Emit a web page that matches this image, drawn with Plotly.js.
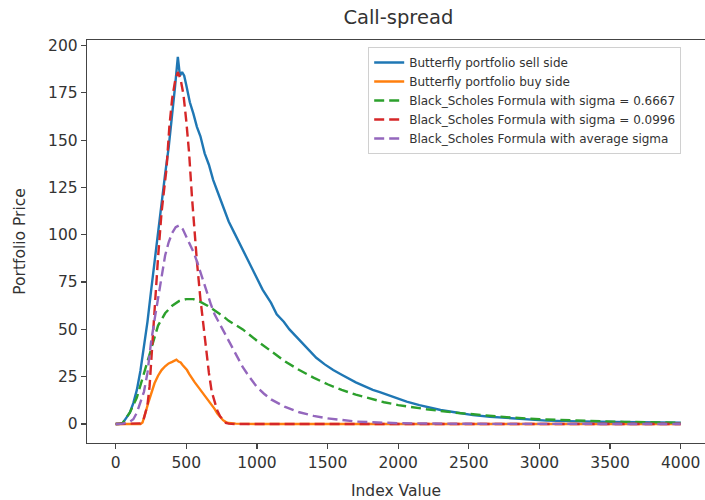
<!DOCTYPE html>
<html>
<head>
<meta charset="utf-8">
<script src="https://cdn.plot.ly/plotly-3.0.1.min.js"></script>
<style>
html,body{margin:0;padding:0;background:#fff;overflow:hidden;}
#chart{width:705px;height:500px;}
</style>
</head>
<body>
<div id="chart"></div>
<script>
// ---- Data ----
const titleText = "Call-spread";
const xLabel = "Index Value";
const yLabel = "Portfolio Price";
const seriesNames = [
  "Butterfly portfolio sell side",
  "Butterfly portfolio buy side",
  "Black_Scholes Formula with sigma = 0.6667",
  "Black_Scholes Formula with sigma = 0.0996",
  "Black_Scholes Formula with average sigma"
];
const xTicks = [0, 500, 1000, 1500, 2000, 2500, 3000, 3500, 4000];
const yTicks = [0, 25, 50, 75, 100, 125, 150, 175, 200];

const sellX = [0, 25, 50, 75, 100, 125, 150, 175, 200, 225, 250, 275, 300, 325, 350, 375, 400, 420, 440, 455, 470, 485, 500, 525, 550, 575, 600, 630, 660, 690, 720, 760, 800, 840, 880, 925, 975, 1040, 1100, 1140, 1190, 1230, 1280, 1330, 1380, 1420, 1480, 1540, 1600, 1660, 1700, 1760, 1820, 1870, 1940, 2000, 2060, 2150, 2300, 2400, 2530, 2650, 2810, 2950, 3050, 3200, 3350, 3520, 3700, 3850, 4000];
const sellY = [0, 0, 0.5, 3, 6, 11, 18, 28, 40, 54, 70, 86, 100, 117, 132, 146, 162, 178, 194, 184, 186, 184, 179, 170, 164, 157, 152, 143, 137, 129, 123, 115, 107, 101, 95, 88, 80, 71, 64, 58, 54, 50, 46, 42, 38, 35, 31.5, 28.5, 26, 23.5, 22, 20, 18, 16.8, 15, 13.7, 11.8, 10, 7.4, 6.2, 4.7, 3.8, 3, 2.4, 1.8, 1.5, 1.2, 1.05, 0.9, 0.8, 0.7];

const buyX = [0, 100, 175, 190, 200, 215, 230, 250, 275, 300, 325, 350, 375, 400, 415, 430, 445, 460, 475, 490, 505, 520, 540, 560, 580, 600, 620, 640, 660, 680, 700, 720, 740, 760, 780, 800, 850, 1000, 1500, 2000, 2500, 3000, 3500, 4000];
const buyY = [0, 0, 0, 0.8, 3, 7, 11, 16, 21.5, 25.5, 28.5, 30.5, 32, 32.8, 33.5, 34, 33, 32.5, 31, 30, 28.5, 26.5, 24, 22, 20, 18, 16, 14, 12.5, 10, 8, 5.5, 3.5, 2, 1, 0.5, 0.2, 0, 0, 0, 0, 0, 0, 0];

const bsHighX = [0, 25, 50, 75, 100, 150, 200, 250, 300, 350, 400, 450, 500, 550, 600, 650, 700, 760, 800, 900, 1000, 1100, 1200, 1300, 1400, 1500, 1600, 1700, 1800, 1900, 2000, 2200, 2400, 2600, 2800, 3000, 3300, 3600, 4000];
const bsHighY = [0, 0.1, 0.6, 3, 6, 14, 27, 40, 52, 58.5, 62.5, 65, 66, 66, 64.5, 62.5, 60, 57, 54.5, 50, 44, 38.5, 33, 28.5, 24.5, 21, 18, 15.5, 13.3, 11.5, 10, 7.8, 6, 4.6, 3.4, 2.5, 1.6, 1.1, 0.7];

const bsLowX = [0, 150, 175, 200, 225, 240, 250, 265, 275, 290, 300, 325, 350, 360, 380, 400, 420, 440, 460, 480, 500, 520, 540, 560, 575, 600, 620, 640, 660, 680, 700, 720, 740, 760, 780, 800, 850, 1000, 1500, 2000, 2500, 3000, 3500, 4000];
const bsLowY = [0, 0, 0.3, 3, 10, 20, 32, 47, 60, 77, 88, 112, 128, 135, 157, 172, 181, 186, 182, 174, 160, 143, 120, 100, 86, 66, 52, 38, 27, 17, 12, 7, 4, 2, 0.6, 0.2, 0, 0, 0, 0, 0, 0, 0, 0];

const bsAvgX = [0, 50, 100, 125, 150, 175, 200, 225, 250, 275, 300, 325, 350, 375, 400, 425, 450, 475, 500, 525, 550, 575, 600, 625, 650, 675, 700, 750, 800, 850, 900, 950, 1000, 1050, 1100, 1200, 1300, 1400, 1500, 1700, 2000, 2500, 3000, 3500, 4000];
const bsAvgY = [0, 0.2, 1.2, 2.5, 6, 11, 17, 27, 43, 55, 66, 79, 89, 96, 101, 104, 105, 103, 99, 95, 91, 86, 80, 74, 68, 63, 58, 51, 44, 37, 30, 24.5, 19.5, 16, 13, 9, 6.2, 4.3, 3, 1.3, 0.4, 0.1, 0, 0, 0];

// ---- Styling ----
const colors = ["#1f77b4", "#ff7f0e", "#2ca02c", "#d62728", "#9467bd"];
const dashPat = "10px,5px";
const lw = 2.4;

const xs = [sellX, buyX, bsHighX, bsLowX, bsAvgX];
const ys = [sellY, buyY, bsHighY, bsLowY, bsAvgY];
const traces = xs.map((x, i) => ({
  type: "scatter",
  mode: "lines",
  x: x,
  y: ys[i],
  name: seriesNames[i],
  line: {color: colors[i], width: lw, dash: i >= 2 ? dashPat : "solid"}
}));

const textColor = "#333";
const axisFont = {family: "DejaVu Sans", size: 15.5, color: textColor};

const layout = {
  width: 705,
  height: 500,
  margin: {l: 87, r: 0, t: 40, b: 57, pad: 0},
  paper_bgcolor: "#fff",
  plot_bgcolor: "#fff",
  font: {family: "DejaVu Sans", color: textColor},
  title: {
    text: titleText,
    font: {family: "DejaVu Sans", size: 19.5, color: textColor},
    x: 0.565, xref: "container", xanchor: "center",
    y: 0.966, yref: "container", yanchor: "middle"
  },
  xaxis: {
    range: [-203, 4172],
    tickvals: xTicks,
    ticktext: xTicks.map(String),
    ticks: "outside", ticklen: 5, tickwidth: 1.2, tickcolor: "#444",
    showline: true, linecolor: "#444", linewidth: 1.2, mirror: true,
    showgrid: false, zeroline: false,
    tickfont: axisFont,
    title: {text: xLabel, font: axisFont, standoff: 15}
  },
  yaxis: {
    range: [-10.04, 202.9],
    tickvals: yTicks,
    ticktext: yTicks.map(String),
    ticks: "outside", ticklen: 5, tickwidth: 1.2, tickcolor: "#444",
    showline: true, linecolor: "#444", linewidth: 1.2, mirror: false,
    showgrid: false, zeroline: false,
    tickfont: axisFont,
    title: {text: yLabel, font: axisFont, standoff: 18}
  },
  legend: {
    x: 0.455, y: 0.9826, xanchor: "left", yanchor: "top",
    bgcolor: "rgba(255,255,255,0.85)",
    bordercolor: "#d0d0d0", borderwidth: 1,
    font: {family: "DejaVu Sans", size: 12, color: textColor},
    tracegroupgap: 0
  },
  showlegend: true
};

Plotly.newPlot("chart", traces, layout, {displayModeBar: false, staticPlot: true});
</script>
</body>
</html>
